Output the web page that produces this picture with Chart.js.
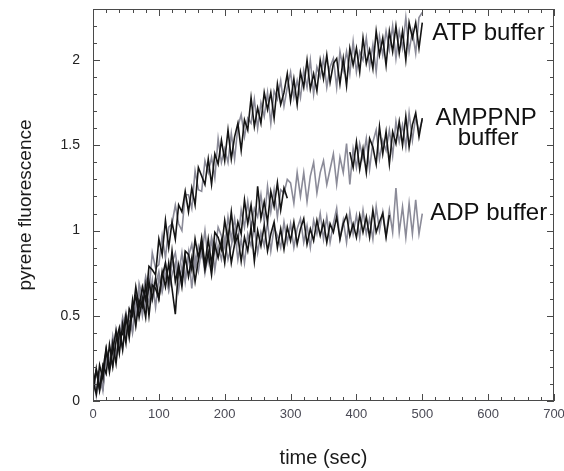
<!DOCTYPE html>
<html>
<head>
<meta charset="utf-8">
<title>pyrene fluorescence</title>
<script src="https://cdn.jsdelivr.net/npm/chart.js@4/dist/chart.umd.min.js"></script>
<style>
  html, body { margin: 0; padding: 0; background: #fff; }
  #wrap { width: 564px; height: 471px; }
</style>
</head>
<body>
<div id="wrap"><canvas id="fluoChart" width="564" height="471"></canvas></div>
<script>
// time points (sec), one every 5 s
const times = [];
for (let t = 0; t <= 500; t += 5) times.push(t);

const xTicks = [0, 100, 200, 300, 400, 500, 600, 700];
const yTicks = [0, 0.5, 1, 1.5, 2];
const seriesNames = ['ATP buffer', 'AMPPNP buffer', 'ADP buffer'];

// rows of 10 (0-45, 50-95, ... , 500)
const atpDark = [
  0.12, 0.04, 0.21, 0.13, 0.30, 0.17, 0.30, 0.41, 0.28, 0.45,
  0.34, 0.54, 0.50, 0.67, 0.55, 0.67, 0.59, 0.79, 0.77, 0.74,
  0.95, 0.86, 1.06, 0.90, 1.05, 0.95, 1.15, 1.11, 1.23, 1.11,
  1.25, 1.15, 1.37, 1.32, 1.27, 1.42, 1.27, 1.45, 1.39, 1.53,
  1.41, 1.59, 1.42, 1.55, 1.63, 1.47, 1.65, 1.59, 1.78, 1.61,
  1.72, 1.63, 1.81, 1.71, 1.81, 1.66, 1.86, 1.74, 1.81, 1.92,
  1.76, 1.89, 1.74, 1.93, 1.84, 2.00, 1.83, 1.92, 1.82, 2.00,
  1.89, 2.03, 1.87, 1.98, 2.01, 1.86, 2.01, 1.85, 2.07, 1.97,
  2.07, 1.93, 2.13, 1.98, 2.06, 1.95, 2.17, 2.03, 2.13, 1.97,
  2.17, 2.05, 2.20, 2.04, 2.17, 2.00, 2.22, 2.13, 2.22, 2.07,
  2.22
];
const atpLight = [
  0.03, 0.18, 0.11, 0.07, 0.26, 0.25, 0.21, 0.42, 0.32, 0.43,
  0.52, 0.41, 0.56, 0.46, 0.69, 0.61, 0.73, 0.64, 0.87, 0.78,
  0.80, 0.97, 0.84, 1.02, 1.04, 1.15, 1.04, 1.00, 1.21, 1.21,
  1.13, 1.35, 1.24, 1.23, 1.41, 1.34, 1.43, 1.31, 1.54, 1.40,
  1.48, 1.40, 1.57, 1.42, 1.61, 1.68, 1.55, 1.66, 1.63, 1.77,
  1.60, 1.75, 1.67, 1.81, 1.63, 1.82, 1.77, 1.88, 1.73, 1.84,
  1.93, 1.78, 1.88, 1.78, 1.94, 1.84, 2.00, 1.80, 1.96, 1.90,
  2.01, 1.84, 1.96, 2.01, 1.84, 2.05, 1.94, 2.05, 1.92, 2.11,
  1.93, 2.05, 2.00, 2.13, 1.96, 2.09, 1.93, 2.14, 2.03, 2.17,
  2.06, 2.20, 2.01, 2.17, 2.07, 2.25, 2.05, 2.17, 2.04, 2.25,
  2.28
];
const amppnpDark = [
  0.05, 0.19, 0.06, 0.18, 0.31, 0.19, 0.34, 0.22, 0.40, 0.39,
  0.50, 0.37, 0.54, 0.62, 0.49, 0.60, 0.49, 0.70, 0.60, 0.72,
  0.60, 0.73, 0.81, 0.69, 0.88, 0.70, 0.79, 0.70, 0.88, 0.86,
  0.77, 0.95, 0.84, 0.96, 0.80, 0.95, 0.80, 0.99, 0.96, 0.89,
  1.06, 0.94, 1.11, 0.93, 1.05, 0.98, 1.18, 1.04, 1.15, 0.99,
  1.26, 1.07, 1.17, 1.05, 1.23, 1.14, 1.28, 1.12, 1.25, 1.19,
  null, null, null, null, null, null, null, null, null, null,
  null, null, null, null, null, null, null, null, 1.46, 1.37,
  1.52, 1.36, 1.48, 1.34, 1.54, 1.49, 1.39, 1.61, 1.45, 1.58,
  1.39, 1.58, 1.51, 1.64, 1.50, 1.67, 1.49, 1.62, 1.69, 1.55,
  1.66
];
const amppnpLight = [
  0.14, 0.06, 0.14, 0.08, 0.27, 0.22, 0.38, 0.26, 0.39, 0.31,
  0.48, 0.47, 0.41, 0.61, 0.52, 0.64, 0.53, 0.73, 0.59, 0.68,
  0.76, 0.64, 0.74, 0.65, 0.81, 0.87, 0.74, 0.87, 0.70, 0.85,
  0.92, 0.78, 0.91, 0.85, 1.00, 0.82, 0.96, 0.87, 1.02, 0.97,
  0.90, 1.08, 0.95, 1.07, 0.93, 1.12, 1.02, 1.17, 1.02, 1.13,
  1.08, 1.21, 1.05, 1.26, 1.11, 1.24, 1.08, 1.24, 1.22, 1.30,
  1.28, 1.16, 1.34, 1.20, 1.34, 1.17, 1.32, 1.40, 1.22, 1.34,
  1.41, 1.27, 1.36, 1.45, 1.27, 1.43, 1.34, 1.51, 1.27, 1.48,
  1.37, 1.51, 1.42, 1.54, 1.36, 1.52, 1.59, 1.42, 1.53, 1.47,
  1.59, 1.44, 1.64, 1.52, 1.62, 1.49, 1.69, 1.53, 1.67, 1.58,
  1.65
];
const adpDark = [
  0.10, 0.18, 0.07, 0.21, 0.16, 0.33, 0.20, 0.35, 0.43, 0.30,
  0.49, 0.41, 0.59, 0.44, 0.59, 0.55, 0.68, 0.50, 0.68, 0.66,
  0.60, 0.76, 0.67, 0.81, 0.66, 0.51, 0.79, 0.67, 0.85, 0.73,
  0.84, 0.70, 0.83, 0.92, 0.77, 0.87, 0.74, 0.92, 0.84, 0.94,
  0.81, 0.98, 0.81, 0.92, 0.97, 0.82, 0.96, 0.88, 1.02, 0.82,
  1.00, 0.91, 1.03, 0.88, 0.98, 1.05, 0.90, 1.01, 0.89, 1.02,
  0.94, 1.05, 0.92, 1.01, 1.07, 0.92, 1.01, 0.94, 1.06, 0.97,
  1.05, 0.93, 1.04, 0.99, 1.08, 0.95, 1.04, 1.09, 0.97, 1.04,
  0.96, 1.09, 0.99, 1.08, 0.96, 1.12, 0.99, 1.05, 1.10, 0.96,
  1.09, null, null, null, null, null, null, null, null, null,
  null
];
const adpLight = [
  0.18, 0.03, 0.16, 0.06, 0.26, 0.22, 0.36, 0.27, 0.37, 0.49,
  0.37, 0.53, 0.40, 0.55, 0.65, 0.50, 0.63, 0.58, 0.71, 0.55,
  0.72, 0.65, 0.81, 0.65, 0.74, 0.81, 0.65, 0.79, 0.71, 0.87,
  0.66, 0.85, 0.76, 0.90, 0.75, 0.86, 0.94, 0.77, 0.91, 0.83,
  0.95, 0.83, 0.91, 1.00, 0.83, 0.95, 0.81, 0.98, 0.91, 1.02,
  0.87, 0.99, 0.91, 1.05, 0.88, 1.02, 0.97, 0.90, 1.05, 0.93,
  1.04, 0.90, 1.01, 1.07, 0.93, 1.03, 0.90, 1.06, 0.98, 1.10,
  0.95, 1.08, 0.93, 1.04, 1.13, 0.95, 1.06, 0.93, 1.11, 0.98,
  1.09, 0.96, 1.12, 0.98, 1.07, 0.95, 1.14, 1.00, 1.11, 0.97,
  1.12, 0.99, 1.25, 0.99, 1.14, 0.96, 1.16, 0.98, 1.18, 0.98,
  1.10
];

const pts = vals => times.map((t, i) => ({ x: t, y: vals[i] }));

function trace(vals, color, order) {
  return {
    data: pts(vals),
    borderColor: color,
    borderWidth: 1.6,
    pointRadius: 0,
    tension: 0,
    spanGaps: false,
    order: order
  };
}

// frame with inward ticks on all four sides
const framePlugin = {
  id: 'frame',
  afterDatasetsDraw(chart) {
    const { ctx, chartArea: a, scales: { x, y } } = chart;
    ctx.save();
    ctx.strokeStyle = '#4a4a4a';
    ctx.lineWidth = 1;
    ctx.strokeRect(a.left + 0.5, a.top + 0.5, a.right - a.left - 1, a.bottom - a.top - 1);
    ctx.beginPath();
    for (let v = 0; v <= 700; v += 20) {
      const px = Math.round(x.getPixelForValue(v)) + 0.5;
      const len = v % 100 === 0 ? 7 : 4;
      ctx.moveTo(px, a.bottom); ctx.lineTo(px, a.bottom - len);
      ctx.moveTo(px, a.top); ctx.lineTo(px, a.top + len);
    }
    for (let k = 0; k <= 23; k++) {
      const py = Math.round(y.getPixelForValue(k / 10)) + 0.5;
      const len = k % 5 === 0 ? 7 : 4;
      ctx.moveTo(a.left, py); ctx.lineTo(a.left + len, py);
      ctx.moveTo(a.right, py); ctx.lineTo(a.right - len, py);
    }
    ctx.stroke();
    ctx.restore();
  }
};

// curve names written beside the trace ends
const namePlugin = {
  id: 'names',
  afterDatasetsDraw(chart) {
    const { ctx, scales: { x, y } } = chart;
    ctx.save();
    ctx.fillStyle = '#111';
    ctx.font = '24px "Liberation Sans", Arial, sans-serif';
    ctx.textBaseline = 'middle';
    ctx.textAlign = 'left';
    ctx.fillText(seriesNames[0], x.getPixelForValue(515), y.getPixelForValue(2.155));
    ctx.fillText(seriesNames[2], x.getPixelForValue(512), y.getPixelForValue(1.10));
    ctx.textAlign = 'center';
    const parts = seriesNames[1].split(' ');
    ctx.fillText(parts[0], x.getPixelForValue(597), y.getPixelForValue(1.66));
    ctx.fillText(parts[1], x.getPixelForValue(600), y.getPixelForValue(1.54));
    ctx.restore();
  }
};

const ctx = document.getElementById('fluoChart').getContext('2d');
new Chart(ctx, {
  type: 'line',
  data: {
    datasets: [
      trace(atpDark, '#141414', 1),
      trace(amppnpDark, '#141414', 1),
      trace(adpDark, '#141414', 1),
      trace(atpLight, '#8b8b98', 2),
      trace(amppnpLight, '#8b8b98', 2),
      trace(adpLight, '#8b8b98', 2)
    ]
  },
  options: {
    responsive: false,
    animation: false,
    layout: { padding: { top: 9, right: 10, left: 0, bottom: 0 } },
    plugins: { legend: { display: false }, tooltip: { enabled: false } },
    scales: {
      x: {
        type: 'linear',
        min: 0,
        max: 700,
        afterBuildTicks: s => { s.ticks = xTicks.map(v => ({ value: v })); },
        afterFit: s => { s.height = 70; s.paddingLeft = 0; s.paddingRight = 0; },
        grid: { display: false, drawTicks: false },
        border: { display: false },
        ticks: {
          padding: 6,
          color: '#4a4a55',
          font: { family: '"Liberation Sans", Arial, sans-serif', size: 13 }
        },
        title: {
          display: true,
          text: 'time (sec)',
          color: '#1a1a1a',
          padding: { top: 0, bottom: 1 },
          font: { family: '"Liberation Sans", Arial, sans-serif', size: 20 }
        }
      },
      y: {
        type: 'linear',
        min: 0,
        max: 2.3,
        afterBuildTicks: s => { s.ticks = yTicks.map(v => ({ value: v })); },
        afterFit: s => { s.width = 93; s.paddingTop = 0; s.paddingBottom = 0; },
        grid: { display: false, drawTicks: false },
        border: { display: false },
        ticks: {
          padding: 13,
          color: '#222',
          callback: v => String(v),
          font: { family: '"Liberation Sans", Arial, sans-serif', size: 14 }
        },
        title: {
          display: true,
          text: 'pyrene fluorescence',
          color: '#1a1a1a',
          padding: { top: 14, bottom: 0 },
          font: { family: '"Liberation Sans", Arial, sans-serif', size: 19 }
        }
      }
    }
  },
  plugins: [framePlugin, namePlugin]
});
</script>
</body>
</html>
